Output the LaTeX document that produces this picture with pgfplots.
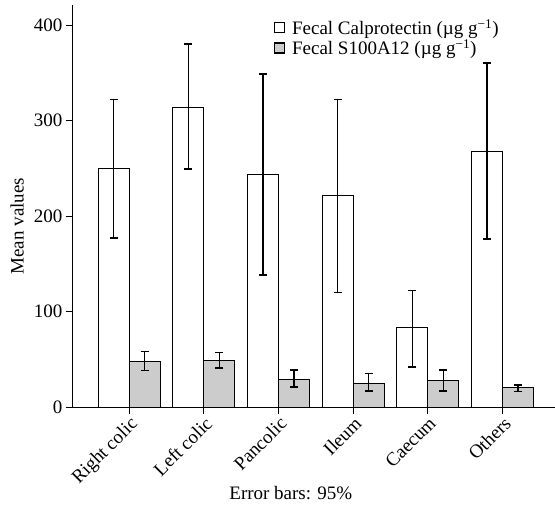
\documentclass[border=0pt]{standalone}
\usepackage{fontspec}
\setmainfont{Liberation Serif}
\usepackage{pgfplots}
\pgfplotsset{compat=1.18}
\definecolor{bargrey}{gray}{0.8}

\begin{document}
\begin{tikzpicture}
\begin{axis}[
  scale only axis, width=482pt, height=402pt,
  xmin=-0.75, xmax=5.70, ymin=0, ymax=421,
  axis lines=left, axis line style={-, line width=1pt},
  ybar=0pt, bar width=31pt,
  xtick={0,...,5},
  xticklabels={Right colic, Left colic, Pancolic, Ileum, Caecum, Others},
  x tick label style={rotate=45, anchor=north east, inner sep=1pt},
  ytick={0,100,200,300,400},
  tick align=outside, major tick length=7pt,
  tick style={black, line width=1pt},
  font=\fontsize{19}{22}\selectfont,
  /pgf/number format/assume math mode=true,
  ylabel={Mean values},
  ylabel style={at={(axis description cs:-0.116,0.45)}, anchor=center},
  xlabel={Error bars: 95\%},
  xlabel style={at={(axis description cs:0.452,-0.214)}, anchor=center},
  legend image code/.code={\draw[#1, line width=1.5pt] (0pt,-5pt) rectangle (10pt,5pt); \path (15pt,0pt);},
  legend style={at={(axis description cs:0.41,0.975)}, anchor=north west,
    draw=none, fill=none, font=\fontsize{19}{22}\selectfont, row sep=0pt},
  legend cell align=left,
]
\addplot[fill=white, draw=black, line width=1pt,
  error bars/.cd, y dir=both, y explicit,
  error bar style={line width=1.5pt},
  error mark options={rotate=90, mark size=4pt, line width=1.5pt}]
  coordinates {
  (0,250) += (0,72)  -= (0,73)
  (1,314) += (0,66)  -= (0,65)
  (2,243) += (0,106) -= (0,105)
  (3,222) += (0,100) -= (0,102)
  (4,83)  += (0,39)  -= (0,41)
  (5,268) += (0,92)  -= (0,92)
  };
\addlegendentry{Fecal Calprotectin (µg g\textsuperscript{−1})}
\addplot[fill=bargrey, draw=black, line width=1pt,
  error bars/.cd, y dir=both, y explicit,
  error bar style={line width=1.5pt},
  error mark options={rotate=90, mark size=4pt, line width=1.5pt}]
  coordinates {
  (0,48) += (0,10) -= (0,10)
  (1,49) += (0,8)  -= (0,8)
  (2,29) += (0,10) -= (0,8)
  (3,25) += (0,10) -= (0,8)
  (4,28) += (0,11) -= (0,11)
  (5,20) += (0,3)  -= (0,4)
  };
\addlegendentry{Fecal S100A12 (µg g\textsuperscript{−1})}
\end{axis}
\pgfresetboundingbox
\useasboundingbox (-73pt,-105pt) rectangle (482pt,407pt);
\end{tikzpicture}
\end{document}
